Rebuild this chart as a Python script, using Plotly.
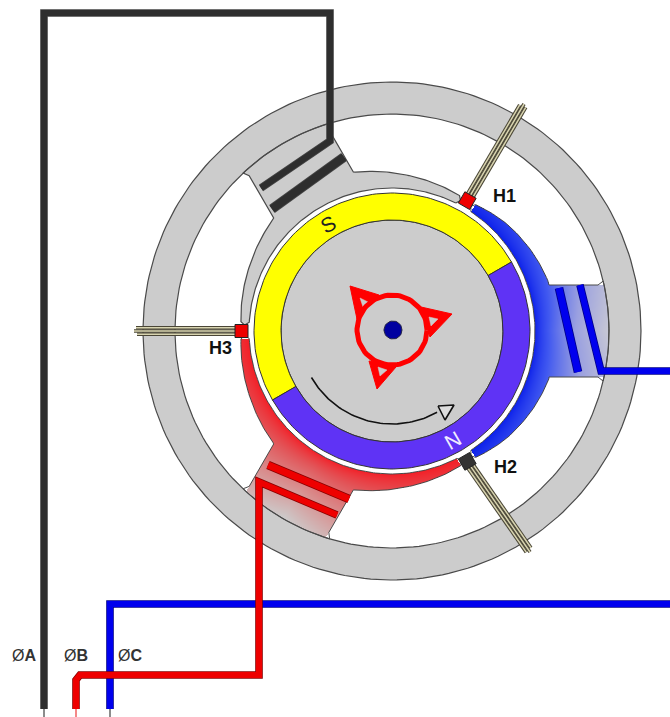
import numpy as np
import plotly.graph_objects as go

W, H = 670, 717
CX, CY = 392, 331

# radii of the motor parts
RING_OUT, RING_IN = 249, 217
GAP_R = 143
ROTOR_OUT, ROTOR_IN = 138, 111
ARROW_R = 93

# magnets, degrees
YELLOW_ARC = [30, 210]
PURPLE_ARC = [210, 390]

# stator poles: axis angle, half span of the shoe
POLE_A = [120, 56.5]
POLE_C = [0, 56.5]
POLE_B = [240, 57]

# outer edge of the shoes against the angle from the pole axis
SHOE_ANGLE = [17, 34, 45, 58]
SHOE_RADIUS = [163, 157, 154, 151]
SHOE_C_ANGLE = [17, 29, 43, 58]
SHOE_C_RADIUS = [164, 161, 157, 151]

# hall sensors: angle, colour, far end of the leads
HALL_ANGLES = [60, 300, 180]
HALL_COLORS = ["#ee0000", "#333333", "#ee0000"]
LEAD_END_X = [524, 530, 134]
LEAD_END_Y = [104, 552, 331]

# wires, in picture units
WIRE_A_X = [44, 44, 330, 330, 261]
WIRE_A_Y = [709, 13, 13, 141, 188]
COIL_A_X = [344, 272]
COIL_A_Y = [157, 209]
WIRE_B_X = [76, 76, 80, 259, 259, 337]
WIRE_B_Y = [709, 680, 675, 675, 482, 515]
COIL_B_X = [268, 349]
COIL_B_Y = [465, 499]
WIRE_C_X = [110, 110, 670]
WIRE_C_Y = [709, 604, 604]
WIRE_C2_X = [670, 601, 580]
WIRE_C2_Y = [371, 371, 285]
COIL_C_X = [559, 578]
COIL_C_Y = [288, 372]

# triangles of the red commutator mark
TRI_X = [[350, 379, 357], [452, 421, 430], [377, 369, 396]]
TRI_Y = [[286, 295, 319], [314, 307, 337], [389, 361, 367]]
HOLE_X = [[360, 368, 363], [429, 438, 431], [378, 387, 380]]
HOLE_Y = [[298, 302, 307], [317, 319, 326], [367, 370, 376]]
ARROW_HEAD_X = [438, 454, 445]
ARROW_HEAD_Y = [406, 405, 420]

LABELS = ["H1", "H2", "H3"]
LABEL_X = [504, 505, 220]
LABEL_Y = [196, 467, 348]
PHASES = ["Ø<b>A</b>", "Ø<b>B</b>", "Ø<b>C</b>"]
PHASE_X = [24, 75.5, 130]
PHASE_Y = [655, 655, 655]

GREY = "#cccccc"
EDGE = "#4a4a4a"


def arc(r, a0, a1, n=120):
    a = np.radians(np.linspace(a0, a1, n))
    return CX + r * np.cos(a), CY - r * np.sin(a)


def local(axis, u, v):
    a = np.radians(axis)
    u, v = np.asarray(u, float), np.asarray(v, float)
    return CX + u * np.cos(a) - v * np.sin(a), CY - (u * np.sin(a) + v * np.cos(a))


def shoe_radius(d, axis):
    # outer edge of a pole shoe tapers towards the tip
    if axis == POLE_C[0]:
        return np.interp(np.abs(d), SHOE_C_ANGLE, SHOE_C_RADIUS)
    return np.interp(np.abs(d), SHOE_ANGLE, SHOE_RADIUS)


def pole_outline(axis, span):
    xs, ys = [], []
    def add(p):
        xs.extend(p[0]); ys.extend(p[1])
    tip = shoe_radius(span, axis) - 4
    add(arc(GAP_R, axis - span, axis + span))
    add(arc(tip, axis + span + 1.2, axis + span + 1.2, 1))
    d = np.linspace(span, 17, 40)
    r = shoe_radius(d, axis)
    add((CX + r * np.cos(np.radians(axis + d)), CY - r * np.sin(np.radians(axis + d))))
    add(local(axis, [157, 206, 211], [46, 46, 50]))
    add(arc(RING_IN, axis + 13.3, axis - 13.3, 20))
    add(local(axis, [211, 206, 157], [-50, -46, -46]))
    d = np.linspace(17, span, 40)
    r = shoe_radius(d, axis)
    add((CX + r * np.cos(np.radians(axis - d)), CY - r * np.sin(np.radians(axis - d))))
    add(arc(tip, axis - span - 1.2, axis - span - 1.2, 1))
    xs.append(xs[0]); ys.append(ys[0])
    return xs, ys


def pole_gradient(axis, span, bend):
    px, py = np.meshgrid(np.arange(W) + 0.5, np.arange(H) + 0.5)
    dx, dy = px - CX, CY - py
    r = np.hypot(dx, dy)
    d = (np.degrees(np.arctan2(dy, dx)) - axis + 180) % 360 - 180
    a = np.radians(axis)
    v = -dx * np.sin(a) + dy * np.cos(a)
    u = dx * np.cos(a) + dy * np.sin(a)
    inside = (r >= GAP_R) & (r <= RING_IN) & (np.abs(d) <= span) & (
        (r <= shoe_radius(d, axis)) | ((np.abs(v) <= 46) & (u > 0)))
    t = ((r - GAP_R) / (RING_IN - GAP_R)) ** 0.7 * (1 - bend * np.abs(d) / span)
    return np.where(inside, t, np.nan)


fig = go.Figure()


def poly(x, y, fill=None, color=EDGE, width=1.2):
    fig.add_trace(go.Scatter(
        x=list(x), y=list(y), mode="lines", hoverinfo="skip", showlegend=False,
        fill="toself" if fill else "none", fillcolor=fill,
        line=dict(color=color, width=width)))


def wire(x, y, color, edge, width=6):
    poly(x, y, color=edge, width=width + 1.6)
    poly(x, y, color=color, width=width)


pixel_x = np.arange(W) + 0.5
pixel_y = np.arange(H) + 0.5
blue_scale = [[0, "#0a1eea"], [0.3, "#4058f0"], [0.65, "#9aa0e0"], [1, "#c8c8d4"]]
red_scale = [[0, "#f41c24"], [0.3, "#e25458"], [0.65, "#d89090"], [1, "#cccccc"]]
for pole, scale in ((POLE_C, blue_scale), (POLE_B, red_scale)):
    fig.add_trace(go.Heatmap(
        x=pixel_x, y=pixel_y, z=pole_gradient(pole[0], pole[1], 0.6),
        colorscale=scale, zmin=0, zmax=1, showscale=False, hoverinfo="skip"))

# stator ring and grey pole
ox, oy = arc(RING_OUT, 0, 360, 240)
ix, iy = arc(RING_IN, 360, 0, 240)
poly(list(ox) + list(ix), list(oy) + list(iy), fill=GREY, color="rgba(0,0,0,0)", width=0)
ax, ay = pole_outline(*POLE_A)
poly(ax, ay, fill=GREY)
for pole in (POLE_C, POLE_B):
    poly(*pole_outline(*pole), color=EDGE, width=1)
poly(ox, oy)
poly(ix, iy)

# rotor
dx, dy = arc(ROTOR_IN, 0, 360, 180)
poly(dx, dy, fill=GREY, color="#333333", width=1)
for span, col in ((YELLOW_ARC, "#ffff00"), (PURPLE_ARC, "#5f33f5")):
    ox2, oy2 = arc(ROTOR_OUT, span[0], span[1])
    ix2, iy2 = arc(ROTOR_IN, span[1], span[0])
    poly(list(ox2) + list(ix2) + [ox2[0]], list(oy2) + list(iy2) + [oy2[0]],
         fill=col, color="#333333", width=1)

# rotation arrow
poly(*arc(ARROW_R, 210, 299, 60), color="#111111", width=1.6)
poly(ARROW_HEAD_X + ARROW_HEAD_X[:1], ARROW_HEAD_Y + ARROW_HEAD_Y[:1],
     fill="#dddddd", color="#111111", width=1.6)

# hall sensors with their leads
for angle, col, ex, ey in zip(HALL_ANGLES, HALL_COLORS, LEAD_END_X, LEAD_END_Y):
    bx, by = local(angle, 152, 0)
    ux, uy = (ex - bx), (ey - by)
    length = np.hypot(ux, uy)
    nx, ny = -uy / length, ux / length
    for v, trim in ((-3.2, 3), (0, 0), (3.2, 2)):
        lx = [bx + nx * v, ex + nx * v - ux / length * trim]
        ly = [by + ny * v, ey + ny * v - uy / length * trim]
        poly(lx, ly, color="#4a4636", width=3.6)
        poly(lx, ly, color="#d8d4b0", width=1.5)
    sx, sy = local(angle, [144, 157, 157, 144, 144], [-6.5, -6.5, 6.5, 6.5, -6.5])
    poly(sx, sy, fill=col, color="#222222", width=1)

# commutator mark
for tx, ty, hx, hy in zip(TRI_X, TRI_Y, HOLE_X, HOLE_Y):
    poly(tx + tx[:1], ty + ty[:1], fill="#ff0000", color="#ff0000", width=1)
    poly(hx + hx[:1], hy + hy[:1], fill=GREY, color=GREY, width=0.5)
mx, my = arc(35, 0, 360, 90)
poly(mx, my - 1, color="#ff0000", width=5)
hx, hy = arc(9, 0, 360, 40)
poly(hx + 1, hy - 1, fill="#0000a0", color="#222244", width=1)

# coils and leads
wire(WIRE_C_X, WIRE_C_Y, "#0000ee", "#000088")
wire(WIRE_C2_X, WIRE_C2_Y, "#0000ee", "#000088")
wire(COIL_C_X, COIL_C_Y, "#0000ee", "#000088", width=7)
wire(WIRE_A_X, WIRE_A_Y, "#2e2e2e", "#444444")
wire(COIL_A_X, COIL_A_Y, "#2e2e2e", "#444444", width=8)
wire(WIRE_B_X, WIRE_B_Y, "#ee0000", "#880000")
wire(COIL_B_X, COIL_B_Y, "#ee0000", "#880000", width=7)
poly([44, 44], [709, 717], color="#666666", width=1.5)
poly([76, 76], [709, 717], color="#f06060", width=1.5)
poly([110, 110], [709, 717], color="#666666", width=1.5)

notes = []
for txt, x, y in zip(LABELS, LABEL_X, LABEL_Y):
    notes.append(dict(x=x, y=y, text=f"<b>{txt}</b>", showarrow=False,
                      font=dict(size=18, color="#111111")))
for txt, x, y in zip(PHASES, PHASE_X, PHASE_Y):
    notes.append(dict(x=x, y=y, text=txt, showarrow=False,
                      font=dict(size=16, color="#333333")))
notes.append(dict(x=328, y=224, text="S", showarrow=False, textangle=-28,
                  font=dict(size=21, color="#222222")))
notes.append(dict(x=452, y=440, text="N", showarrow=False, textangle=-30,
                  font=dict(size=21, color="#f0ecff")))

fig.update_layout(
    width=W, height=H, margin=dict(l=0, r=0, t=0, b=0),
    paper_bgcolor="white", plot_bgcolor="white", showlegend=False,
    font=dict(family="Liberation Sans"), annotations=notes,
    xaxis=dict(range=[0, W], visible=False, fixedrange=True),
    yaxis=dict(range=[H, 0], visible=False, fixedrange=True),
)
fig.write_html("out.html", config=dict(displayModeBar=False),
               post_script="document.body.style.margin='0';document.documentElement.style.overflow='hidden';")
